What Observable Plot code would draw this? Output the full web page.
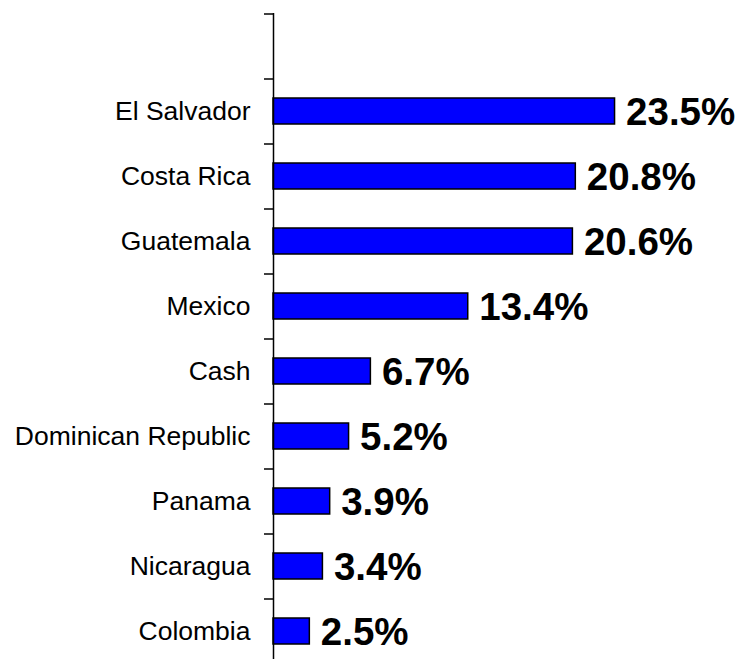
<!DOCTYPE html>
<html>
<head>
<meta charset="utf-8">
<script src="https://cdn.jsdelivr.net/npm/d3@7"></script>
<script src="https://cdn.jsdelivr.net/npm/@observablehq/plot@0.6"></script>
<style>
  html, body { margin: 0; padding: 0; background: #fff; }
  svg { display: block; }
</style>
</head>
<body>
<div id="chart"></div>
<script>
const categories = ["El Salvador", "Costa Rica", "Guatemala", "Mexico", "Cash", "Dominican Republic", "Panama", "Nicaragua", "Colombia"];
const values = [23.5, 20.8, 20.6, 13.4, 6.7, 5.2, 3.9, 3.4, 2.5];
const valueLabels = ["23.5%", "20.8%", "20.6%", "13.4%", "6.7%", "5.2%", "3.9%", "3.4%", "2.5%"];

const data = categories.map((c, i) => ({category: c, value: values[i], label: valueLabels[i]}));
const domain = [""].concat(categories);

const chart = Plot.plot({
  width: 741,
  height: 659,
  marginLeft: 273,
  marginRight: 0,
  marginTop: 13,
  marginBottom: 0,
  style: {fontFamily: "'Liberation Sans', Arial, sans-serif", background: "#fff", color: "#000"},
  x: {domain: [0, 32.2], axis: null},
  y: {domain, range: [13, 663], paddingInner: 0.6, paddingOuter: 0.3, label: null},
  marks: [
    Plot.axisY({tickSize: 0, tickPadding: 23, fontSize: 26.5, fill: "#000", label: null}),
    Plot.axisY({tickSize: 9, strokeWidth: 1.5, text: null, dy: -32.5, label: null}),
    Plot.barX(data, {x: "value", y: "category", fill: "#0000FF", stroke: "#000", strokeWidth: 1.5}),
    Plot.ruleX([0], {stroke: "#000", strokeWidth: 1.5}),
    Plot.text(data, {x: "value", y: "category", text: "label", textAnchor: "start", dx: 11, dy: 1, fontSize: 38.5, fontWeight: "bold", fill: "#000"})
  ]
});
document.getElementById("chart").appendChild(chart);
</script>
</body>
</html>
